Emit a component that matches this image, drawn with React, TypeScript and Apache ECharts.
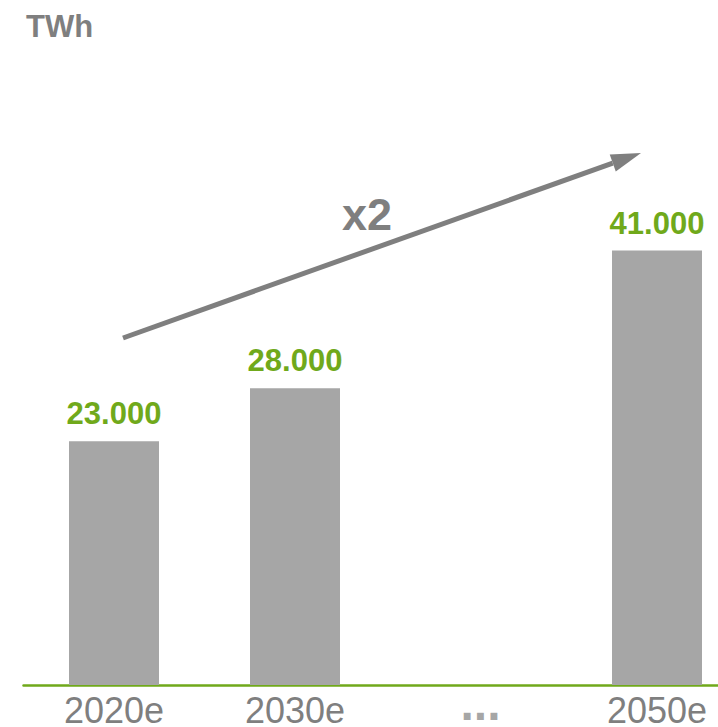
import React, { useEffect, useRef } from "react";
import * as echarts from "echarts";

const categories = ["2020e", "2030e", "...", "2050e"];
const values: (number | null)[] = [23000, 28000, null, 41000];
const unitLabel = "TWh";
const growthLabel = "x2";

const GREEN = "#70a91b";
const GRAY_BAR = "#a6a6a6";
const GRAY_TEXT = "#7f7f7f";

export default function App() {
  const ref = useRef<HTMLDivElement>(null);
  useEffect(() => {
    if (!ref.current) return;
    const chart = echarts.init(ref.current, undefined, { renderer: "svg" });
    const tip = [641, 153];
    const start = [123, 338];
    const dx = tip[0] - start[0];
    const dy = tip[1] - start[1];
    const len = Math.sqrt(dx * dx + dy * dy);
    const ux = dx / len, uy = dy / len;
    const nx = -uy, ny = ux;
    const hl = 30, hw = 9;
    const bx = tip[0] - hl * ux, by = tip[1] - hl * uy;
    chart.setOption({
      animation: false,
      grid: {
        left: 23.5,
        right: -29.5,
        top: 49.2,
        bottom: 42,
        containLabel: false,
        outerBoundsMode: "none",
      },
      xAxis: {
        type: "category",
        data: categories,
        axisLine: { show: true, lineStyle: { color: GREEN, width: 2.5 } },
        axisTick: { show: false },
        axisLabel: {
          margin: 10,
          color: GRAY_TEXT,
          fontSize: 36,
          lineHeight: 30,
          fontFamily: "'Liberation Sans', Arial, sans-serif",
          formatter: (v: string) => (v === "..." ? "{d|" + v + "}" : v),
          rich: {
            d: {
              fontSize: 48,
              lineHeight: 16,
              fontWeight: "bold",
              color: GRAY_BAR,
              fontFamily: "'Liberation Sans', Arial, sans-serif",
              padding: [0, 0, 0, 9],
            },
          },
        },
      },
      yAxis: { type: "value", min: 0, max: 60000, show: false, splitLine: { show: false } },
      series: [
        {
          type: "bar",
          data: values,
          barWidth: 90,
          itemStyle: { color: GRAY_BAR },
          label: {
            show: true,
            position: "top",
            distance: 12,
            color: GREEN,
            fontSize: 31,
            fontWeight: "bold",
            fontFamily: "'Liberation Sans', Arial, sans-serif",
            formatter: (p: any) => (p.value == null ? "" : Number(p.value).toLocaleString("de-DE")),
          },
        },
      ],
      graphic: [
        {
          type: "text",
          left: 26,
          top: 11,
          style: {
            text: unitLabel,
            fill: GRAY_TEXT,
            fontSize: 31,
            fontWeight: "bold",
            fontFamily: "'Liberation Sans', Arial, sans-serif",
          },
        },
        {
          type: "text",
          x: 367,
          y: 214,
          style: {
            text: growthLabel,
            fill: GRAY_TEXT,
            fontSize: 45,
            fontWeight: "bold",
            fontFamily: "'Liberation Sans', Arial, sans-serif",
            align: "center",
            verticalAlign: "middle",
          },
        },
        {
          type: "line",
          shape: { x1: start[0], y1: start[1], x2: bx, y2: by },
          style: { stroke: GRAY_TEXT, lineWidth: 5 },
        },
        {
          type: "polygon",
          shape: {
            points: [
              [tip[0], tip[1]],
              [bx + hw * nx, by + hw * ny],
              [bx - hw * nx, by - hw * ny],
            ],
          },
          style: { fill: GRAY_TEXT },
        },
      ],
    });
    return () => chart.dispose();
  }, []);
  return (
    <div
      ref={ref}
      style={{ position: "fixed", left: 0, top: 0, width: 718, height: 727, background: "#fff" }}
    />
  );
}
